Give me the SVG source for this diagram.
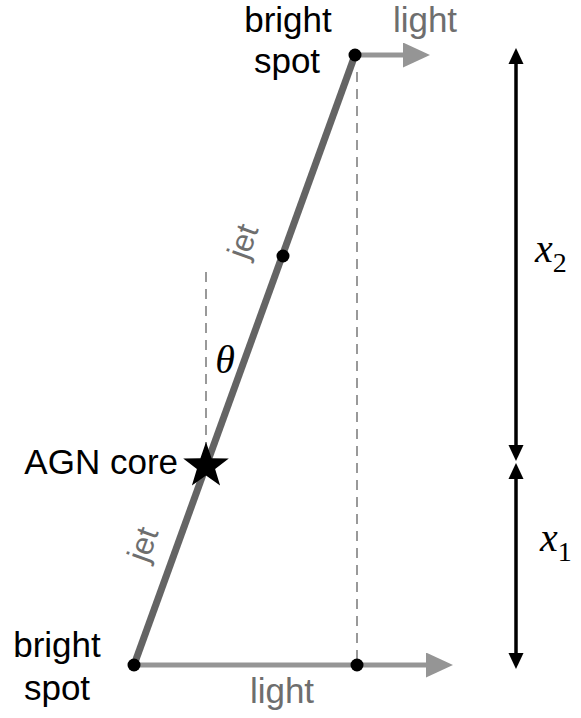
<svg xmlns="http://www.w3.org/2000/svg" width="581" height="718" viewBox="0 0 581 718">
<defs>
<marker id="ag" markerWidth="6" markerHeight="5" refX="0" refY="2.5" orient="auto" markerUnits="strokeWidth"><path d="M0,0 L5.4,2.5 L0,5 z" fill="#959595"/></marker>
<marker id="ab" markerWidth="6" markerHeight="6" refX="0" refY="2.15" orient="auto-start-reverse" markerUnits="strokeWidth"><path d="M0,0 L4.6,2.15 L0,4.3 z" fill="#000"/></marker>
</defs>
<style>
.t{font-family:"Liberation Sans",Arial,sans-serif;font-size:35px;fill:#000}
.g{font-family:"Liberation Sans",Arial,sans-serif;font-size:35px;fill:#6e6e6e}
.j{font-family:"Liberation Sans",Arial,sans-serif;font-size:32px;fill:#6e6e6e}
.m{font-family:"Liberation Serif","Times New Roman",serif;font-style:italic;font-size:40px;fill:#000}
.s{font-family:"Liberation Serif","Times New Roman",serif;font-style:normal;font-size:28px;fill:#000}
.dash{stroke:#999;stroke-width:2;stroke-dasharray:10,7;fill:none}
.light{stroke:#959595;stroke-width:5;fill:none}
.dim{stroke:#000;stroke-width:3.5;fill:none}
</style>
<g id="connectors">
<line class="dash" x1="206" y1="272" x2="206" y2="458"/>
<line class="dash" x1="357" y1="72" x2="357" y2="660"/>
<line class="light" x1="355" y1="55" x2="403" y2="55" marker-end="url(#ag)"/>
<line class="light" x1="134" y1="665" x2="426" y2="665" marker-end="url(#ag)"/>
<line x1="134" y1="665" x2="355" y2="55" stroke="#646464" stroke-width="7"/>
<line class="dim" x1="516" y1="64" x2="516" y2="445" marker-end="url(#ab)" marker-start="url(#ab)"/>
<line class="dim" x1="516" y1="479" x2="516" y2="653" marker-end="url(#ab)" marker-start="url(#ab)"/>
</g>
<g id="top-spot">
<circle cx="355" cy="55" r="6.5" fill="#000"/>
<text class="t" x="288" y="32" text-anchor="middle">bright</text>
<text class="t" x="287" y="73" text-anchor="middle">spot</text>
<text class="g" x="425" y="32" text-anchor="middle">light</text>
</g>
<g id="mid-point">
<circle cx="283" cy="256" r="6.5" fill="#000"/>
<text class="j" transform="translate(253,245) rotate(-70)" text-anchor="middle">jet</text>
</g>
<g id="agn-core">
<path d="M206,442 L211.6,458.3 L228.8,458.6 L215.1,469 L220.1,485.5 L206,475.6 L191.9,485.5 L196.9,469 L183.2,458.6 L200.4,458.3 z" fill="#000"/>
<text class="t" x="178" y="474" text-anchor="end">AGN core</text>
<text class="m" x="225" y="373" text-anchor="middle">θ</text>
<text class="j" transform="translate(153,548) rotate(-70)" text-anchor="middle">jet</text>
</g>
<g id="bottom-spot">
<circle cx="134" cy="665" r="6.5" fill="#000"/>
<circle cx="357" cy="665" r="6.5" fill="#000"/>
<text class="t" x="57" y="657" text-anchor="middle">bright</text>
<text class="t" x="57" y="700" text-anchor="middle">spot</text>
<text class="g" x="282" y="703" text-anchor="middle">light</text>
</g>
<g id="dims">
<text class="m" x="535" y="262">x<tspan class="s" dy="10">2</tspan></text>
<text class="m" x="540" y="551">x<tspan class="s" dy="10">1</tspan></text>
</g>
</svg>
